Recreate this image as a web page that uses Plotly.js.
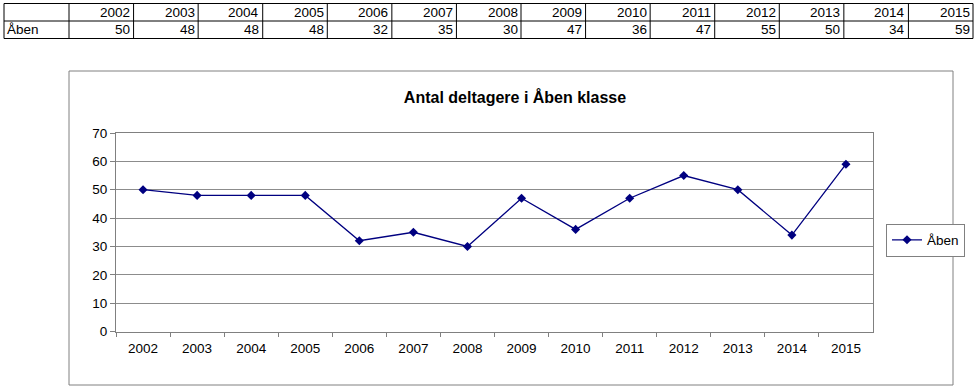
<!DOCTYPE html>
<html><head><meta charset="utf-8">
<script src="https://cdn.plot.ly/plotly-3.0.1.min.js"></script>
<style>html,body{margin:0;padding:0;background:#fff}#c{width:979px;height:386px}</style>
</head><body><div id="c"></div>
<script>
const years = ['2002','2003','2004','2005','2006','2007','2008','2009','2010','2011','2012','2013','2014','2015'];
const seriesName = 'Åben';
const values = [50,48,48,48,32,35,30,47,36,47,55,50,34,59];
const chartTitle = 'Antal deltagere i Åben klasse';
const yTicks = [0,10,20,30,40,50,60,70];

const W = 979, H = 386;
const px = x => x / W, py = y => 1 - y / H;
const font = 'Arial, "Liberation Sans", sans-serif';
const fs = 13.5;

// table geometry (pixels)
const tL = 4, tFirst = 69, tR = 973, tTop = 3.5, tMid = 21, tBot = 38.5;
const colW = (tR - tFirst) / years.length;

const shapes = [];
const annotations = [];
const hline = y => shapes.push({type: 'line', xref: 'paper', yref: 'paper', x0: px(tL), x1: px(tR), y0: py(y), y1: py(y), line: {color: '#000', width: 1}});
const vline = x => shapes.push({type: 'line', xref: 'paper', yref: 'paper', x0: px(x), x1: px(x), y0: py(tTop), y1: py(tBot), line: {color: '#000', width: 1}});
[tTop, tMid, tBot].forEach(hline);
vline(tL); vline(tFirst);
years.forEach((yr, i) => {
  const xr = tFirst + colW * (i + 1);
  vline(xr);
  annotations.push({xref: 'paper', yref: 'paper', x: px(xr - 1.5), y: py((tTop + tMid) / 2), xanchor: 'right', yanchor: 'middle', text: yr, showarrow: false, font: {family: font, size: fs, color: '#000'}});
  annotations.push({xref: 'paper', yref: 'paper', x: px(xr - 1.5), y: py((tMid + tBot) / 2), xanchor: 'right', yanchor: 'middle', text: String(values[i]), showarrow: false, font: {family: font, size: fs, color: '#000'}});
});
annotations.push({xref: 'paper', yref: 'paper', x: px(tL + 1), y: py((tMid + tBot) / 2), xanchor: 'left', yanchor: 'middle', text: seriesName, showarrow: false, font: {family: font, size: fs, color: '#000'}});

shapes.push({
  type: 'rect', xref: 'paper', yref: 'paper',
  x0: px(69), x1: px(953), y0: py(385), y1: py(71),
  line: {color: '#808080', width: 1}, layer: 'below'
});

const line = {
  type: 'scatter', mode: 'lines+markers', name: seriesName,
  x: years, y: values,
  line: {color: '#000080', width: 1.3},
  marker: {symbol: 'diamond', size: 7, color: '#000080'},
  hoverinfo: 'skip'
};

const layout = {
  width: W, height: H,
  margin: {l: 0, r: 0, t: 0, b: 0},
  paper_bgcolor: '#fff', plot_bgcolor: '#fff',
  font: {family: font, size: fs, color: '#000'},
  showlegend: true,
  title: {text: '<b>' + chartTitle + '</b>', x: px(515), xanchor: 'center', y: py(97), yanchor: 'middle', font: {family: font, size: 16, color: '#000'}},
  xaxis: {
    domain: [px(116), px(873)],
    type: 'category',
    range: [-0.5, years.length - 0.5],
    autorange: false,
    tickson: 'boundaries',
    ticks: 'outside', ticklen: 4, tickcolor: '#808080', tickwidth: 1,
    ticklabelstandoff: 4,
    showline: true, linecolor: '#808080', linewidth: 1, mirror: true,
    showgrid: false, zeroline: false,
    tickfont: {family: font, size: fs, color: '#000'},
    fixedrange: true
  },
  yaxis: {
    domain: [py(331.5), py(133)],
    range: [0, 70],
    autorange: false,
    tickvals: yTicks,
    ticksuffix: '\u2009\u2009',
    ticks: 'outside', ticklen: 5, tickcolor: '#808080', tickwidth: 1,
    showline: true, linecolor: '#808080', linewidth: 1, mirror: true,
    showgrid: true, gridcolor: '#8c8c8c', gridwidth: 1,
    zeroline: false,
    tickfont: {family: font, size: fs, color: '#000'},
    fixedrange: true
  },
  legend: {
    x: px(886), y: py(240), xanchor: 'left', yanchor: 'middle',
    bordercolor: '#808080', borderwidth: 1, bgcolor: '#fff',
    font: {family: font, size: fs, color: '#000'},
    itemwidth: 30
  },
  shapes: shapes,
  annotations: annotations
};

Plotly.newPlot('c', [line], layout, {displayModeBar: false, staticPlot: true});
</script>
</body></html>
